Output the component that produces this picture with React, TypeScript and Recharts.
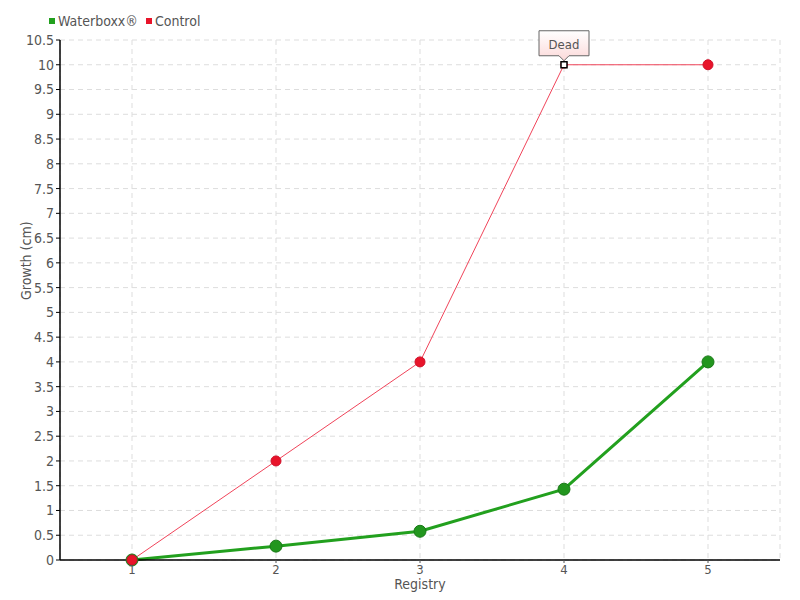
import React from 'react';
import { LineChart, Line, XAxis, YAxis, CartesianGrid, Label } from 'recharts';

const registries = ['1', '2', '3', '4', '5'];
const waterboxx = [0, 0.28, 0.58, 1.43, 4];
const control = [0, 2, 4, 10, 10];
const yTicks = [0, 0.5, 1, 1.5, 2, 2.5, 3, 3.5, 4, 4.5, 5, 5.5, 6, 6.5, 7, 7.5, 8, 8.5, 9, 9.5, 10, 10.5];
const deadIndex = 3;
const deadLabel = 'Dead';

const data = registries.map((r, i) => ({ registry: r, waterboxx: waterboxx[i], control: control[i] }));

const FONT = '"DejaVu Sans Condensed", "Liberation Sans Narrow", "Noto Sans", sans-serif';
const GREEN = '#22a01e';
const RED = '#e8142a';

const ControlDot = (props: any) => {
  const { cx, cy, index } = props;
  if (index === deadIndex) {
    return (
      <g key={`d-${index}`}>
        <defs>
          <linearGradient id="deadBg" x1="0" y1="0" x2="0" y2="1">
            <stop offset="0%" stopColor="#ffffff" />
            <stop offset="100%" stopColor="#fcd9d9" />
          </linearGradient>
        </defs>
        <circle cx={cx} cy={cy} r={4} fill={RED} opacity={0.6} />
        <path
          d={`M${cx - 25},${cy - 34} H${cx + 25} V${cy - 9} H${cx + 5} L${cx},${cy - 4} L${cx - 5},${cy - 9} H${cx - 25} Z`}
          fill="url(#deadBg)"
          stroke="#666"
          strokeWidth={1}
        />
        <text x={cx} y={cy - 16} textAnchor="middle" fontSize={13} fill="#555" fontFamily={FONT}>
          {deadLabel}
        </text>
        <rect x={cx - 3} y={cy - 3} width={6} height={6} fill="#fff" stroke="#000" strokeWidth={1.5} />
      </g>
    );
  }
  return <circle key={`d-${index}`} cx={cx} cy={cy} r={5} fill={RED} stroke="#d0102a" strokeWidth={1} />;
};

export default function App() {
  return (
    <div style={{ position: 'absolute', left: 0, top: 0, width: 800, height: 600, background: '#fff', fontFamily: FONT }}>
      <div style={{ position: 'absolute', left: 49, top: 13, display: 'flex', alignItems: 'center', fontSize: 14, color: '#555' }}>
        <span style={{ width: 6, height: 6, background: GREEN, marginRight: 3 }} />
        <span style={{ marginRight: 8 }}>Waterboxx®</span>
        <span style={{ width: 6, height: 6, background: RED, marginRight: 3 }} />
        <span>Control</span>
      </div>
      <LineChart width={800} height={600} data={data} margin={{ top: 40, right: 20, bottom: 10, left: 0 }}>
        <CartesianGrid stroke="#ddd" strokeDasharray="5 4" />
        <XAxis
          dataKey="registry"
          height={30}
          padding={{ left: 72, right: 72 }}
          axisLine={{ stroke: '#000', strokeWidth: 1.5 }}
          tickLine={{ stroke: '#555' }}
          tickSize={3}
          tick={{ fill: '#555', fontSize: 13, fontFamily: FONT }}
        >
          <Label value="Registry" position="insideBottom" offset={1} fill="#555" fontSize={14} fontFamily={FONT} />
        </XAxis>
        <YAxis
          width={60}
          domain={[0, 10.5]}
          ticks={yTicks}
          interval={0}
          axisLine={{ stroke: '#000', strokeWidth: 1.5 }}
          tickLine={{ stroke: '#000' }}
          tickSize={4}
          tick={{ fill: '#555', fontSize: 14, fontFamily: FONT }}
        >
          <Label value="Growth (cm)" angle={-90} position="insideLeft" offset={26} fill="#555" fontSize={14} fontFamily={FONT} />
        </YAxis>
        <Line
          dataKey="waterboxx"
          type="linear"
          stroke={GREEN}
          strokeWidth={3}
          dot={{ r: 6, fill: '#22961e', stroke: '#1a7a18', strokeWidth: 1 }}
          isAnimationActive={false}
        />
        <Line
          dataKey="control"
          type="linear"
          stroke="#f0445a"
          strokeWidth={1}
          dot={<ControlDot />}
          isAnimationActive={false}
        />
      </LineChart>
    </div>
  );
}
